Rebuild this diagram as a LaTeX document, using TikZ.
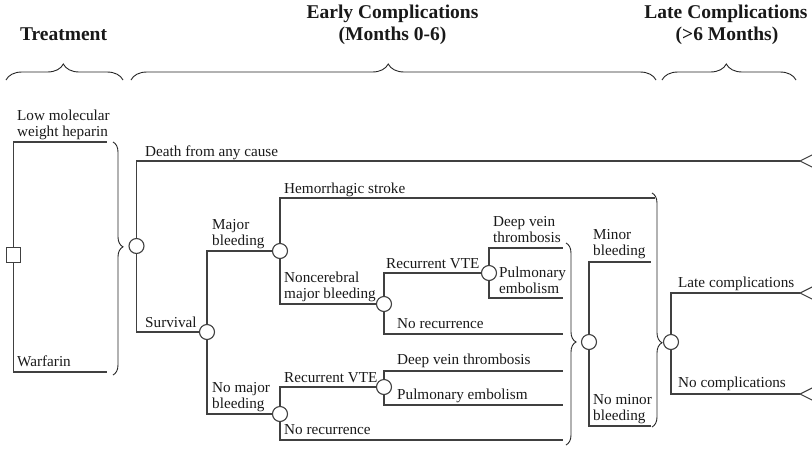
\documentclass[tikz,border=0pt]{standalone}
\usepackage{fontspec}
\setmainfont{Liberation Serif}
\usetikzlibrary{decorations.pathreplacing}
\begin{document}
\begin{tikzpicture}[x=1pt,y=-1pt,
  ln/.style={draw=black!75, line width=1.1pt},
  chance/.style={circle, draw=black!75, line width=1.1pt, fill=white, minimum size=15pt, inner sep=0pt},
  decis/.style={rectangle, draw=black!75, line width=1.1pt, fill=white, minimum width=14pt, minimum height=15pt, inner sep=0pt},
  lab/.style={anchor=base west, inner sep=0pt, font=\fontsize{15.2}{16}\selectfont, align=left, text=black!90},
  ttl/.style={anchor=base, inner sep=0pt, font=\fontsize{19.5}{22}\selectfont\bfseries, text=black!90},
  hbrace/.style={decorate, decoration={brace, amplitude=16pt, aspect=#1}, draw=black!85, line width=0.9pt},
  vbrace/.style={decorate, decoration={brace, amplitude=10pt, aspect=#1}, draw=black!85, line width=0.9pt},
  tri/.style={draw=black!75, line width=1.1pt}
]
\useasboundingbox (0,0) rectangle (812,451);

% titles
\node[ttl] (tT) at (63.5,40) {Treatment};
\node[ttl] (tE1) at (392.5,18) {Early Complications};
\node[ttl] (tE2) at (392.5,40) {(Months 0-6)};
\node[ttl] (tL1) at (726,18) {Late Complications};
\node[ttl] (tL2) at (727,40) {(>6 Months)};

% top braces
\coordinate (bT1) at (6,80);   \coordinate (bT2) at (123,80);
\coordinate (bE1) at (131,80); \coordinate (bE2) at (656,80);
\coordinate (bL1) at (662,80); \coordinate (bL2) at (796,80);
\draw[hbrace=0.49] (bT1) -- (bT2);
\draw[hbrace=0.49] (bE1) -- (bE2);
\draw[hbrace=0.48] (bL1) -- (bL2);

% decision node
\node[decis] (sq) at (13.5,255) {};
\coordinate (a1) at (107,142);
\coordinate (a2) at (107,372);
\draw[ln] (sq.north) |- (a1);
\draw[ln] (sq.south) |- (a2);
\node[lab] (lLMWH) at (17,136) {Low molecular\\weight heparin};
\node[lab] (lWar) at (17,366) {Warfarin};

% left brace
\coordinate (b11) at (113,142); \coordinate (b12) at (113,375);
\draw[vbrace=0.45] (b11) -- (b12);

% chance nodes
\node[chance] (c1) at (136.5,246) {};
\node[chance] (c2) at (207,332) {};
\node[chance] (c3) at (280,251) {};
\node[chance] (c4) at (280,414) {};
\node[chance] (c5) at (384,304) {};
\node[chance] (c6) at (489,273) {};
\node[chance] (c7) at (384,387) {};
\node[chance] (c8) at (589,342) {};
\node[chance] (c9) at (671,342) {};

% end points
\coordinate (tipD) at (800,161);
\coordinate (tipL) at (800,293);
\coordinate (tipN) at (800,394);
\coordinate (h1) at (655,198);
\coordinate (e1) at (563,248);
\coordinate (e2) at (563,298);
\coordinate (e3) at (563,334);
\coordinate (e4) at (563,371);
\coordinate (e5) at (563,405);
\coordinate (e6) at (563,440);
\coordinate (m1) at (651,262);
\coordinate (m2) at (651,426);

% branches
\draw[ln] (c1) |- (tipD);
\draw[ln] (c1) |- (c2);
\draw[ln] (c2) |- (c3);
\draw[ln] (c2) |- (c4);
\draw[ln] (c3) |- (h1);
\draw[ln] (c3) |- (c5);
\draw[ln] (c5) |- (c6);
\draw[ln] (c5) |- (e3);
\draw[ln] (c6) |- (e1);
\draw[ln] (c6) |- (e2);
\draw[ln] (c4) |- (c7);
\draw[ln] (c4) |- (e6);
\draw[ln] (c7) |- (e4);
\draw[ln] (c7) |- (e5);
\draw[ln] (c8) |- (m1);
\draw[ln] (c8) |- (m2);
\draw[ln] (c9) |- (tipL);
\draw[ln] (c9) |- (tipN);

% terminal triangles
\foreach \t in {tipD,tipL,tipN}{
  \draw[tri] ([shift={(13,-6.5)}]\t) -- (\t) -- ([shift={(13,6.5)}]\t);
}

% right braces
\coordinate (b21) at (566,243); \coordinate (b22) at (566,445);
\draw[vbrace=0.49] (b21) -- (b22);
\coordinate (b31) at (652,193); \coordinate (b32) at (652,427);
\draw[vbrace=0.64] (b31) -- (b32);

% labels
\node[lab] (lDeath) at (145,156) {Death from any cause};
\node[lab] (lSurv) at (145,327) {Survival};
\node[lab] (lMaj) at (212,245) {Major\\bleeding};
\node[lab] (lNoMaj) at (212,408) {No major\\bleeding};
\node[lab] (lHem) at (284,193) {Hemorrhagic stroke};
\node[lab] (lNonc) at (284,298) {Noncerebral\\major bleeding};
\node[lab] (lRec1) at (386,268) {Recurrent VTE};
\node[lab] (lNoRec1) at (397,328) {No recurrence};
\node[lab] (lDVT1) at (493,242) {Deep vein\\thrombosis};
\node[lab] (lPE1) at (499,293) {Pulmonary\\embolism};
\node[lab] (lRec2) at (284,382) {Recurrent VTE};
\node[lab] (lDVT2) at (397,364) {Deep vein thrombosis};
\node[lab] (lPE2) at (397,399) {Pulmonary embolism};
\node[lab] (lNoRec2) at (284,434) {No recurrence};
\node[lab] (lMin) at (593,255) {Minor\\bleeding};
\node[lab] (lNoMin) at (593,420) {No minor\\bleeding};
\node[lab] (lLate) at (678,287) {Late complications};
\node[lab] (lNoC) at (678,387) {No complications};
\end{tikzpicture}
\end{document}
